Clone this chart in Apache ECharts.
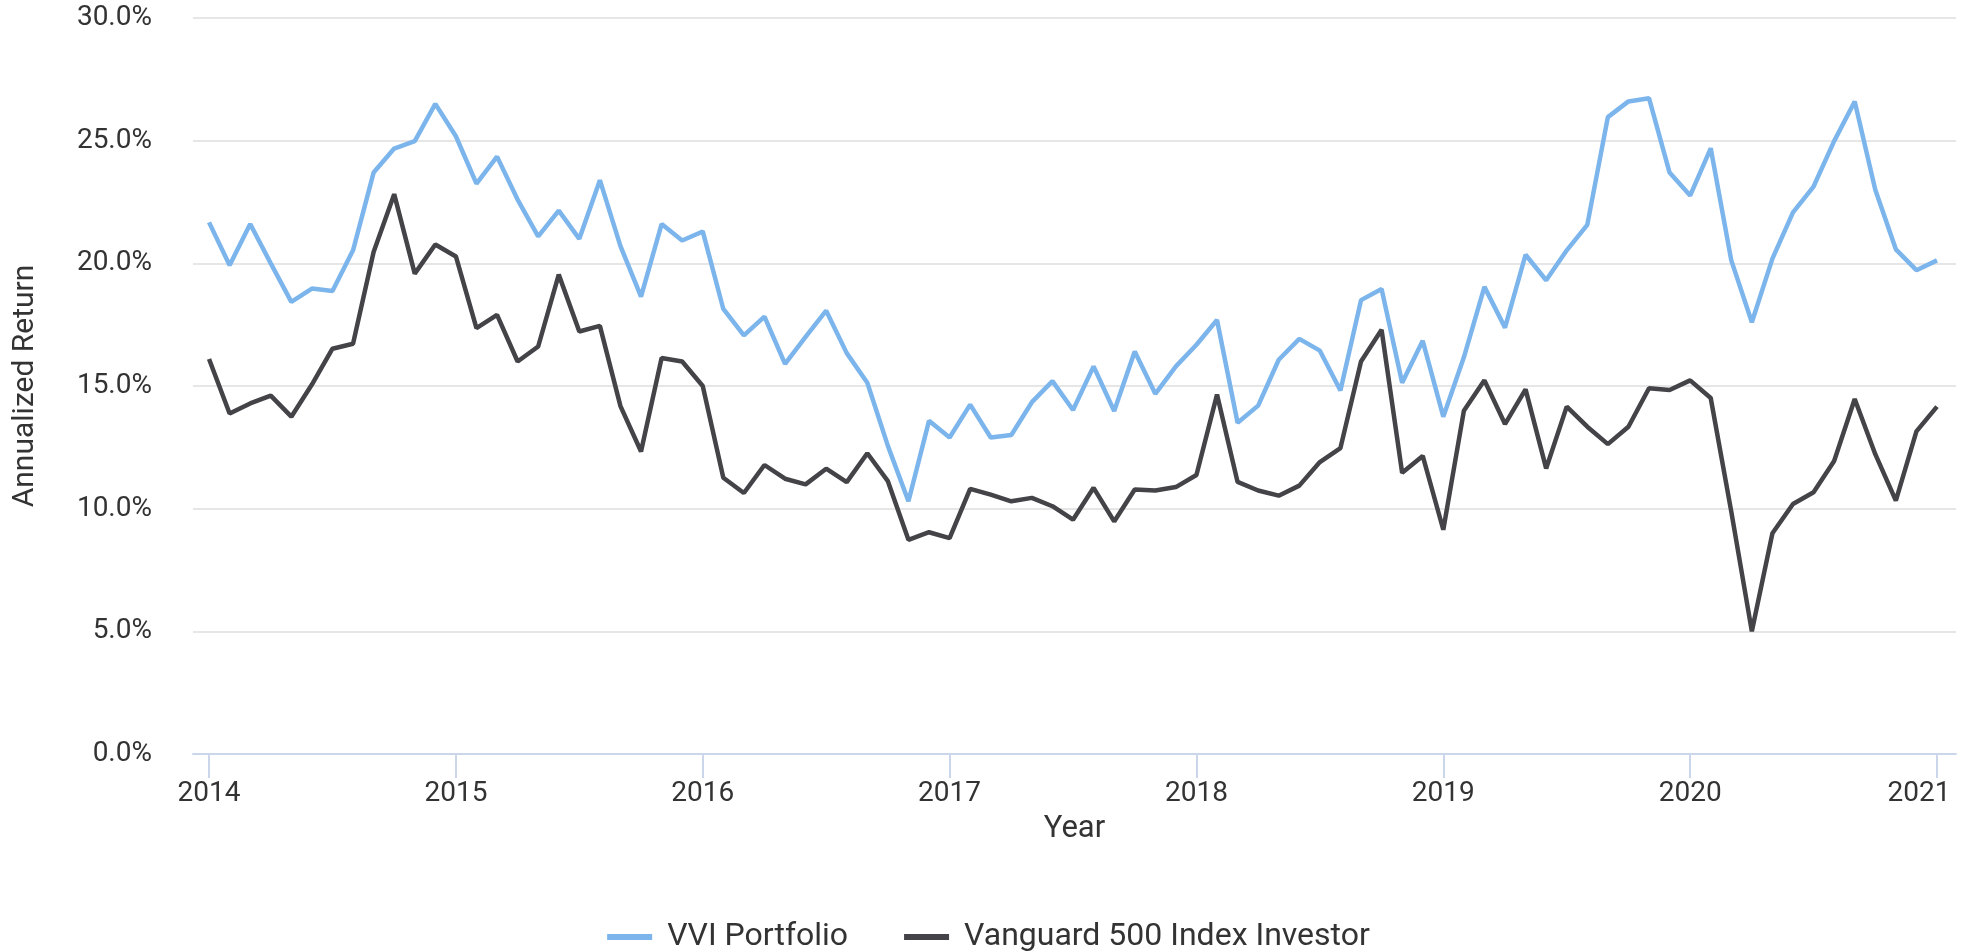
<!DOCTYPE html>
<html>
<head>
<meta charset="utf-8">
<script src="https://cdn.jsdelivr.net/npm/echarts@6/dist/echarts.min.js"></script>
<style>
  html, body { margin: 0; padding: 0; background: #fff; }
  #chart { width: 1977px; height: 952px; }
</style>
</head>
<body>
<div id="chart"></div>
<script>
// monthly points, Jan 2014 .. Jan 2021
const startYear = 2014;
const yearTicks = [2014, 2015, 2016, 2017, 2018, 2019, 2020, 2021];

const vviPortfolio = [
  21.67, 19.92, 21.6, 20.0, 18.43, 18.97, 18.87, 20.53, 23.7, 24.68, 24.98, 26.5,
  25.18, 23.25, 24.35, 22.6, 21.1, 22.15, 21.0, 23.39, 20.7, 18.64, 21.6, 20.93,
  21.3, 18.14, 17.06, 17.83, 15.9, 17.0, 18.07, 16.34, 15.13, 12.56, 10.3, 13.58,
  12.9, 14.24, 12.9, 13.0, 14.34, 15.2, 14.02, 15.8, 13.98, 16.41, 14.68, 15.8,
  16.68, 17.69, 13.5, 14.2, 16.07, 16.92, 16.44, 14.82, 18.5, 18.95, 15.13, 16.84,
  13.75, 16.17, 19.04, 17.38, 20.35, 19.31, 20.53, 21.57, 25.96, 26.6, 26.73, 23.7,
  22.76, 24.69, 20.12, 17.6, 20.19, 22.08, 23.13, 24.98, 26.6, 23.0, 20.57, 19.72,
  20.12
];

const vanguard500 = [
  16.1, 13.88, 14.29, 14.61, 13.75, 15.06, 16.52, 16.72, 20.46, 22.82, 19.58, 20.77,
  20.28, 17.36, 17.9, 16.0, 16.61, 19.54, 17.22, 17.45, 14.18, 12.33, 16.14, 16.0,
  15.0, 11.26, 10.64, 11.78, 11.22, 10.99, 11.63, 11.08, 12.26, 11.12, 8.73, 9.04,
  8.8, 10.81, 10.57, 10.3, 10.44, 10.1, 9.55, 10.85, 9.48, 10.78, 10.74, 10.88,
  11.37, 14.65, 11.09, 10.74, 10.53, 10.94, 11.9, 12.47, 16.0, 17.29, 11.46, 12.15,
  9.14, 13.99, 15.23, 13.45, 14.86, 11.64, 14.16, 13.34, 12.63, 13.34, 14.91, 14.84,
  15.23, 14.51, 9.88, 5.0, 9.0, 10.19, 10.67, 11.94, 14.47, 12.22, 10.33, 13.15,
  14.16
];

const toPoints = (arr) => arr.map((v, i) => [startYear + i / 12, v]);

const textColor = '#333333';
const font = 'Roboto';

const chart = echarts.init(document.getElementById('chart'));

const option = {
  animation: false,
  textStyle: { fontFamily: font },
  grid: { left: 193, right: 21, top: 18, bottom: 198 },
  xAxis: {
    type: 'value',
    min: 2013.935,
    max: 2021.077,
    name: 'Year',
    nameLocation: 'middle',
    nameGap: 60,
    nameTextStyle: { fontSize: 31, color: textColor, fontFamily: font },
    splitLine: { show: false },
    axisLine: { lineStyle: { color: '#ccd6eb', width: 2 } },
    axisTick: {
      customValues: yearTicks,
      length: 24,
      lineStyle: { color: '#ccd6eb', width: 2 }
    },
    axisLabel: {
      customValues: yearTicks,
      margin: 26,
      fontSize: 28,
      color: textColor,
      fontFamily: font,
      formatter: function (v) {
        const y = Math.round(v);
        return y === 2021 ? '{last|' + y + '}' : String(y);
      },
      rich: {
        last: { fontSize: 28, color: textColor, fontFamily: font, padding: [0, 36, 0, 0] }
      }
    }
  },
  yAxis: {
    type: 'value',
    min: 0,
    max: 30,
    interval: 5,
    name: 'Annualized Return',
    nameLocation: 'middle',
    nameGap: 153,
    nameTextStyle: { fontSize: 30, color: textColor, fontFamily: font },
    axisLine: { show: false },
    axisTick: { show: false },
    splitLine: { lineStyle: { color: '#e6e6e6', width: 2 } },
    axisLabel: {
      margin: 41,
      fontSize: 28,
      color: textColor,
      fontFamily: font,
      formatter: (v) => v.toFixed(1) + '%'
    }
  },
  legend: {
    top: 916,
    left: 'center',
    icon: 'rect',
    itemWidth: 45,
    itemHeight: 6,
    itemGap: 56,
    textStyle: { fontSize: 32, color: textColor, fontFamily: font, padding: [0, 0, 0, 10] },
    data: ['VVI Portfolio', 'Vanguard 500 Index Investor']
  },
  series: [
    {
      name: 'VVI Portfolio',
      type: 'line',
      data: toPoints(vviPortfolio),
      showSymbol: false,
      symbol: 'none',
      color: '#7cb5ec',
      lineStyle: { width: 4.5, color: '#7cb5ec' }
    },
    {
      name: 'Vanguard 500 Index Investor',
      type: 'line',
      data: toPoints(vanguard500),
      showSymbol: false,
      symbol: 'none',
      color: '#434348',
      lineStyle: { width: 4.5, color: '#434348' }
    }
  ]
};

chart.setOption(option);
</script>
</body>
</html>
